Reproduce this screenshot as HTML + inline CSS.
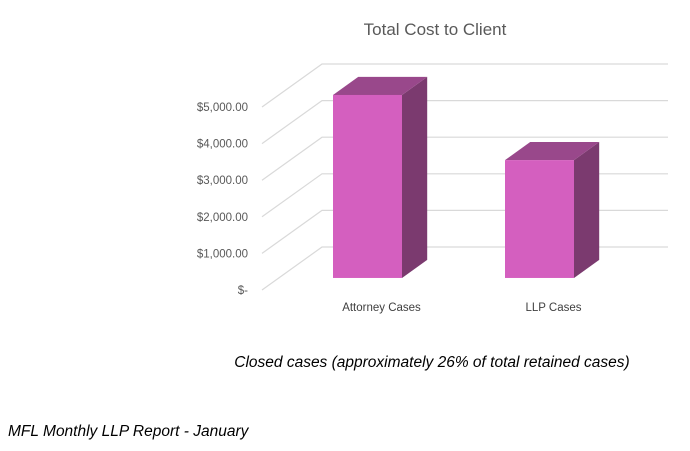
<!DOCTYPE html>
<html><head><meta charset="utf-8"><style>
body{margin:0;background:#fff;width:690px;height:446px;overflow:hidden;font-family:"Liberation Sans",sans-serif}
</style></head><body>
<svg width="690" height="446" xmlns="http://www.w3.org/2000/svg">
<text x="435" y="35" text-anchor="middle" font-size="17" fill="#595959">Total Cost to Client</text>
<g id="grid"></g><g id="bars"></g><g id="labels"></g>
<text x="432" y="367" text-anchor="middle" font-size="15.5" font-style="italic" fill="#000">Closed cases (approximately 26% of total retained cases)</text>
<text x="8" y="436" font-size="15.5" font-style="italic" fill="#000">MFL Monthly LLP Report - January</text>
</svg>
<script>
const categories=["Attorney Cases","LLP Cases"];
const values=[5000,3220];
const ticks=[0,1000,2000,3000,4000,5000];
const tickLabels=["$-","$1,000.00","$2,000.00","$3,000.00","$4,000.00","$5,000.00"];
const NS="http://www.w3.org/2000/svg";
const y0=290, pxPer=36.6/1000, DX=60, DY=43;
function yv(v,d){return y0-v*pxPer-d*DY;}
function xp(x,d){return x+d*DX;}
function mk(t,a,p){const e=document.createElementNS(NS,t);for(const k in a)e.setAttribute(k,a[k]);p.appendChild(e);return e;}
const grid=document.getElementById('grid'),bars=document.getElementById('bars'),lab=document.getElementById('labels');
ticks.forEach((v,i)=>{
  const l=mk('polyline',{points:`262,${yv(v,0)} 322,${yv(v,1)} 668,${yv(v,1)}`,fill:'none',stroke:'#d9d9d9','stroke-width':1.2},grid);
  
  
  const t=mk('text',{x:248,y:yv(v,0)+4,'text-anchor':'end','font-size':11.5,fill:'#595959'},lab);
  t.textContent=tickLabels[i];
  
  
});
const barX=[333,505], bw=69, d1=0.28, d2=0.70;
categories.forEach((c,i)=>{
  const g=mk('g',{},bars);
  
  
  const x=barX[i], yb=yv(0,d1), yt=yv(values[i],d1), ox=(d2-d1)*DX, oy=(d2-d1)*DY;
  mk('polygon',{points:`${x+bw},${yb} ${x+bw+ox},${yb-oy} ${x+bw+ox},${yt-oy} ${x+bw},${yt}`,fill:'#7b3a6f'},g);
  mk('polygon',{points:`${x},${yt} ${x+ox},${yt-oy} ${x+bw+ox},${yt-oy} ${x+bw},${yt}`,fill:'#99488b'},g);
  mk('rect',{x:x,y:yt,width:bw,height:yb-yt,fill:'#d45fbf'},g);
  const t=mk('text',{x:x+bw/2+14,y:311,'text-anchor':'middle','font-size':11.5,fill:'#404040'},lab);
  t.textContent=c;
  
  
});
</script>
</body></html>
